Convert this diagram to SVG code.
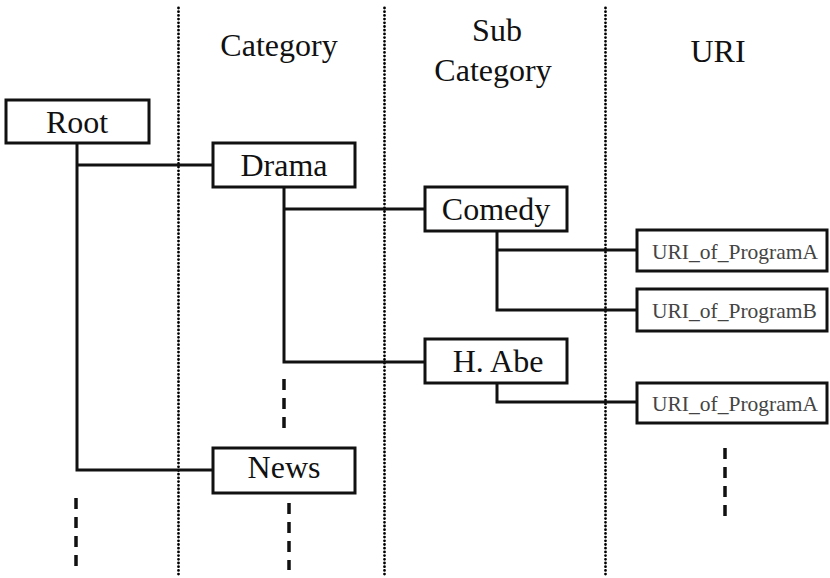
<svg xmlns="http://www.w3.org/2000/svg" width="830" height="578" viewBox="0 0 830 578">
  <style>
    .box { fill: #fff; stroke: #111; stroke-width: 3; }
    .lbl { font-family: 'Liberation Serif', 'Times New Roman', serif; font-size: 32px; fill: #111; text-anchor: middle; }
    .uri { font-family: 'Liberation Serif', 'Times New Roman', serif; font-size: 21.5px; fill: #444; }
    .wire { fill: none; stroke: #111; stroke-width: 3; }
    .sep { fill: none; stroke: #000; stroke-width: 2.8; stroke-linecap: round; stroke-dasharray: 0 3.7; }
    .more { fill: none; stroke: #111; stroke-width: 3.5; stroke-dasharray: 11 8; }
  </style>

  <!-- column separators -->
  <g id="separators">
    <line class="sep" x1="178.5" y1="8" x2="178.5" y2="577"/>
    <line class="sep" x1="384.5" y1="8" x2="384.5" y2="577"/>
    <line class="sep" x1="605.5" y1="8" x2="605.5" y2="577"/>
  </g>

  <!-- column headings -->
  <g id="headings">
    <text class="lbl" x="279" y="56">Category</text>
    <text class="lbl" x="497" y="41">Sub</text>
    <text class="lbl" x="493" y="81">Category</text>
    <text class="lbl" x="718" y="62">URI</text>
  </g>

  <!-- tree connectors -->
  <g id="connectors">
    <path class="wire" d="M77 143 V470 H213 M77 165 H213"/>
    <path class="wire" d="M284 187 V362 H425 M284 209 H425"/>
    <path class="wire" d="M497 231 V310 H637 M497 250 H637"/>
    <path class="wire" d="M497 383 V402 H637"/>
  </g>

  <!-- continuation marks -->
  <g id="ellipses">
    <line class="more" x1="284" y1="379" x2="284" y2="430"/>
    <line class="more" x1="76" y1="498" x2="76" y2="568"/>
    <line class="more" x1="289" y1="503" x2="289" y2="570"/>
    <line class="more" x1="725" y1="448" x2="725" y2="516"/>
  </g>

  <g id="root">
    <rect class="box" x="6" y="100" width="143" height="43"/>
    <text class="lbl" x="77" y="133">Root</text>
  </g>
  <g id="drama">
    <rect class="box" x="213" y="143" width="142" height="44"/>
    <text class="lbl" x="284" y="176">Drama</text>
  </g>
  <g id="news">
    <rect class="box" x="213" y="448" width="142" height="45"/>
    <text class="lbl" x="284" y="478">News</text>
  </g>
  <g id="comedy">
    <rect class="box" x="425" y="187" width="142" height="44"/>
    <text class="lbl" x="496" y="220">Comedy</text>
  </g>
  <g id="habe">
    <rect class="box" x="425" y="339" width="142" height="44"/>
    <text class="lbl" x="498" y="372">H. Abe</text>
  </g>
  <g id="uri-a">
    <rect class="box" x="637" y="230" width="190" height="41"/>
    <text class="uri" x="652" y="259">URI_of_ProgramA</text>
  </g>
  <g id="uri-b">
    <rect class="box" x="637" y="289" width="190" height="42"/>
    <text class="uri" x="652" y="318">URI_of_ProgramB</text>
  </g>
  <g id="uri-a2">
    <rect class="box" x="637" y="383" width="190" height="40"/>
    <text class="uri" x="652" y="411">URI_of_ProgramA</text>
  </g>
</svg>
